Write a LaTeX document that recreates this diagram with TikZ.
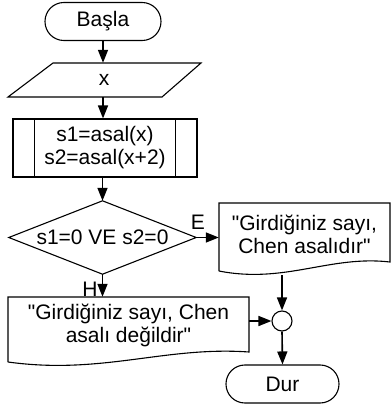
\documentclass[tikz,border=0pt]{standalone}
\usepackage{fontspec}
\setmainfont{Liberation Sans}
\usetikzlibrary{arrows.meta}
\begin{document}
\begin{tikzpicture}[x=1pt,y=-1pt,
  every node/.style={font=\fontsize{21}{23}\selectfont, inner sep=0pt, align=center},
  shapeline/.style={draw=black, line width=1.1pt},
  term/.style={shapeline, rounded corners=18.9pt, minimum width=116pt, minimum height=38pt},
  arr/.style={line width=1.6pt, -{Triangle[length=13pt,width=10pt]}},
  lbl/.style={font=\fontsize{21}{23}\selectfont}
]
\useasboundingbox[fill=white] (0,0) rectangle (391,412);

% Start
\node[term] (start) at (103,21.5) {Başla};

% Input
\node[minimum width=193pt, minimum height=34pt] (inp) at (104,80) {x};
\draw[shapeline] (8,97) -- (162,97) -- (201,63) -- (53,63) -- cycle;

% Predefined process
\node[shapeline, minimum width=184pt, minimum height=58pt] (proc) at (105,148) {s1=asal(x)\\s2=asal(x+2)};
\draw[shapeline] ([xshift=22pt]proc.north west) -- ([xshift=22pt]proc.south west);
\draw[shapeline] ([xshift=-22pt]proc.north east) -- ([xshift=-22pt]proc.south east);

% Decision
\node[minimum width=187pt, minimum height=73pt] (dec) at (102.5,237.5) {s1=0 VE s2=0};
\draw[shapeline] (dec.north) -- (dec.east) -- (dec.south) -- (dec.west) -- cycle;

% Yes document
\node[minimum width=171pt, minimum height=62pt] (edoc) at (304.5,234) {\textquotedbl Girdiğiniz sayı,\\Chen asalıdır\textquotedbl};
\draw[shapeline] (219,271) -- (219,203) -- (390,203) -- (390,262)
  .. controls (330,255) and (285,284) .. (219,271);
\coordinate (edocb) at (282,275);

% No document
\node[minimum width=241pt, minimum height=56pt] (hdoc) at (128.5,325) {\textquotedbl Girdiğiniz sayı, Chen\\asalı değildir\textquotedbl};
\draw[shapeline] (8,362) -- (8,297) -- (249,297) -- (249,352)
  .. controls (165,346) and (102,375) .. (8,362);

% Connector circle
\node[shapeline, circle, minimum size=20pt] (j) at (282,321) {};

% End
\node[term, minimum width=113pt] (stop) at (282.5,384) {Dur};

% Arrows
\draw[arr] (start.south) -- (start.south |- inp.north);
\draw[arr] (inp.south -| start.south) -- (start.south |- proc.north);
\draw[arr] (proc.south -| dec.north) -- (dec.north);
\draw[arr] (dec.east) -- (edoc.west |- dec.east);
\draw[arr] (dec.south) -- (dec.south |- hdoc.north);
\draw[arr] (edocb) -- (j.north);
\draw[arr] (hdoc.east |- j.west) -- (j.west);
\draw[arr] (j.south) -- (stop.north);

% Labels
\node[lbl] (lblE) at (198,222) {E};
\node[lbl] (lblH) at (90,289) {H};
\end{tikzpicture}
\end{document}
